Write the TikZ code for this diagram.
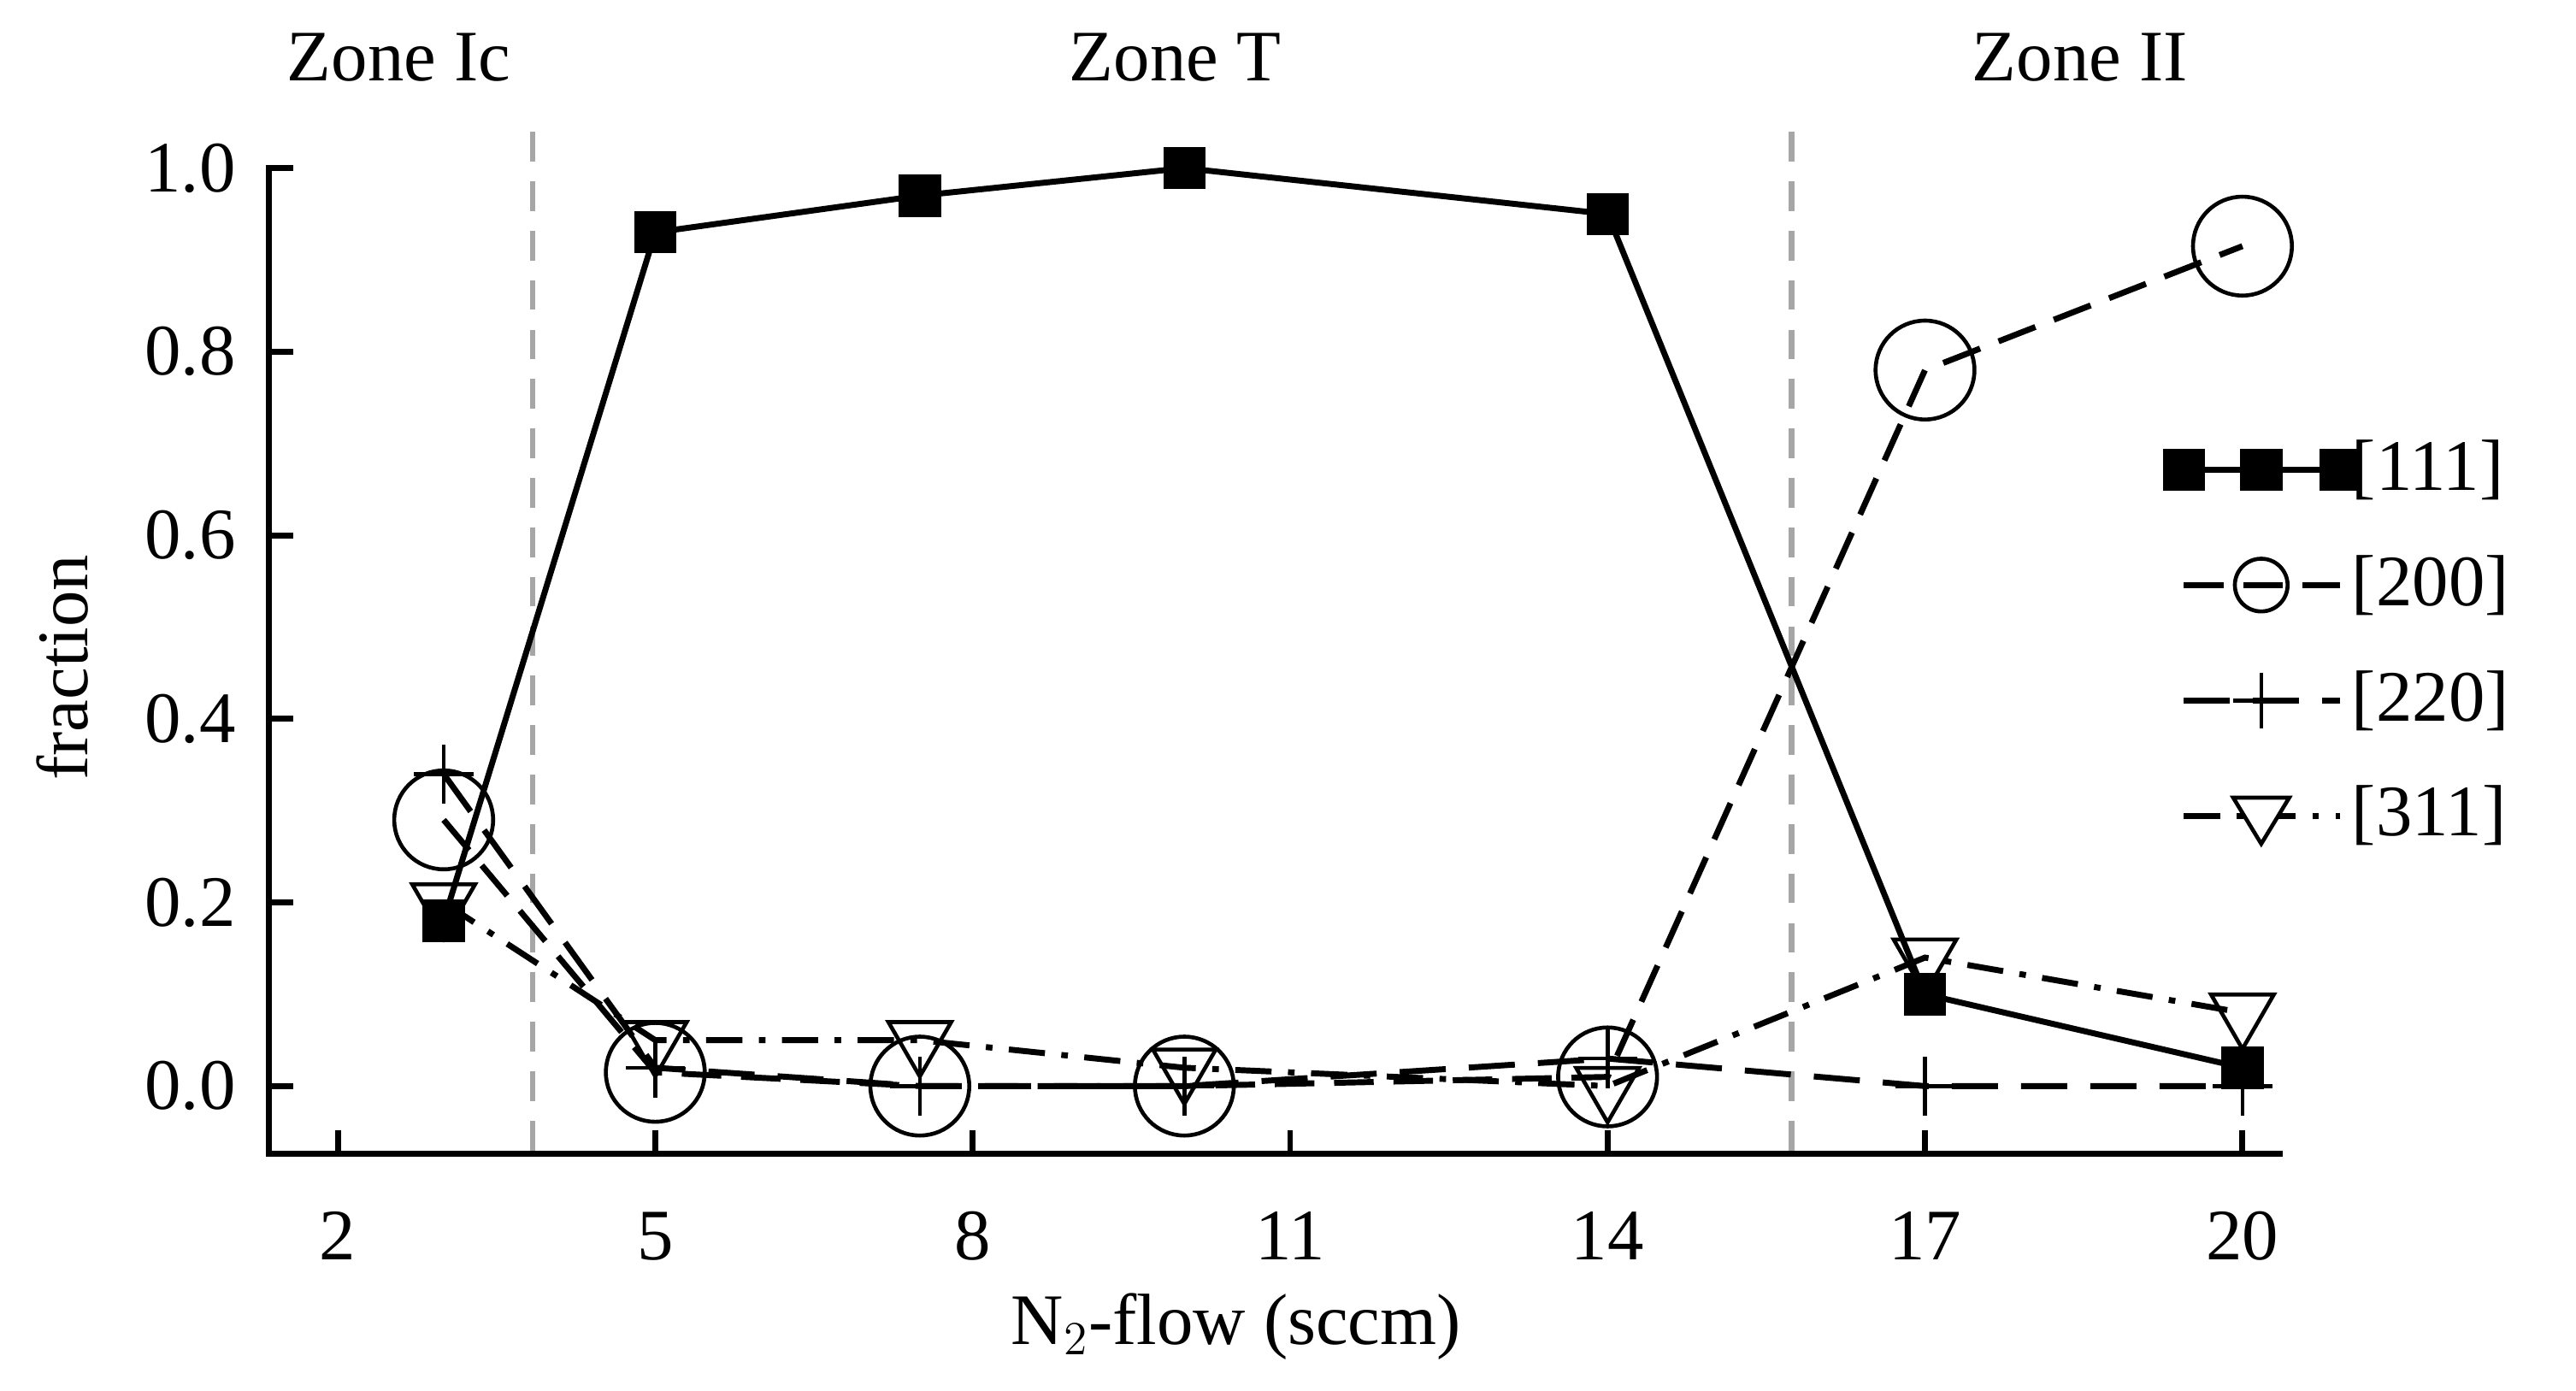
\documentclass[tikz,border=0pt]{standalone}
\usepackage{fontspec}
\setmainfont{Liberation Serif}
\usetikzlibrary{plotmarks}
\begin{document}
\begin{tikzpicture}[x=0.5pt,y=-0.5pt,font=\fontsize{22}{24}\selectfont,
  ln/.style={line width=1.8pt},
  gz/.style={gray!70,line width=1.6pt,dash pattern=on 9pt off 6pt}]
\useasboundingbox (0,0) rectangle (1563,844);
% axes
\draw[line width=1.8pt] (163,100) -- (163,700) -- (1385,700);
\foreach \v/\l in {0/0.0,0.2/0.2,0.4/0.4,0.6/0.6,0.8/0.8,1/1.0}{
  \draw[line width=1.8pt] (163,{659-557*\v}) -- (178,{659-557*\v});
  \node[anchor=east] at (150,{659-557*\v}) {\l};}
\foreach \d in {2,5,8,11,14,17,20}{
  \draw[line width=1.8pt] ({205+64.2*(\d-2)},700) -- ({205+64.2*(\d-2)},686);
  \node at ({205+64.2*(\d-2)},750) {\d};}
\node at (750,805) {N$_2$-flow (sccm)};
\node[rotate=90] at (38,405) {fraction};
\draw[gz] (323,80) -- (323,700);
\draw[gz] (1087,80) -- (1087,700);
\node at (242,35) {Zone Ic};
\node at (713,35) {Zone T};
\node at (1262,35) {Zone II};
\begin{scope}[shift={(76.6,659)},x=32.1pt,y=278.5pt]
\draw[ln,dash pattern=on 11pt off 5pt on 2pt off 5pt,mark=triangle,mark size=11pt,mark options={solid,rotate=180,line width=1.2pt}]
 plot coordinates {(3,0.2)(5,0.05)(7.5,0.05)(10,0.02)(14,0.0)(17,0.14)(20,0.08)};
\draw[ln,dash pattern=on 14pt off 7pt,mark=+,mark size=9pt,mark options={solid,line width=1.2pt}]
 plot coordinates {(3,0.34)(5,0.02)(7.5,0.0)(10,0.0)(14,0.03)(17,0.0)(20,0.0)};
\draw[ln,dash pattern=on 12pt off 6pt,mark=o,mark size=15pt,mark options={solid,line width=1.2pt}]
 plot coordinates {(3,0.29)(5,0.015)(7.5,0)(10,0)(14,0.01)(17,0.78)(20,0.915)};
\draw[ln,mark=square*,mark size=5.5pt,mark options={solid}]
 plot coordinates {(3,0.18)(5,0.93)(7.5,0.97)(10,1.0)(14,0.95)(17,0.10)(20,0.02)};
\end{scope}
% legend
\draw[ln,mark=square*,mark size=5.5pt] plot coordinates {(1325,285)(1372,285)(1420,285)};
\draw[ln,dash pattern=on 12pt off 6pt] (1325,355) -- (1420,355);
\draw[line width=1.2pt] (1372,355) circle (8pt);
\draw[ln,dash pattern=on 14pt off 7pt] (1325,425) -- (1420,425);
\draw[line width=1.2pt] (1372,408) -- (1372,442) (1355,425) -- (1389,425);
\draw[ln,dash pattern=on 11pt off 5pt on 2pt off 5pt] (1325,495) -- (1420,495);
\draw[line width=1.2pt,fill=white] (1355,484) -- (1389,484) -- (1372,512) -- cycle;
\node[anchor=west] at (1420,285) {[111]};
\node[anchor=west] at (1420,355) {[200]};
\node[anchor=west] at (1420,425) {[220]};
\node[anchor=west] at (1420,495) {[311]};
\end{tikzpicture}
\end{document}
